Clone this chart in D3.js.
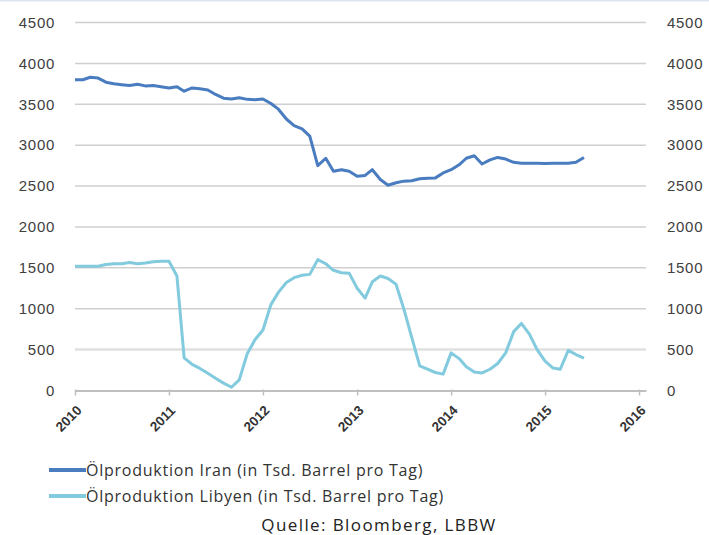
<!DOCTYPE html>
<html>
<head>
<meta charset="utf-8">
<script src="https://cdn.jsdelivr.net/npm/d3@7"></script>
<style>
  body { margin: 0; background: #fff; }
  svg { display: block; font-family: "Open Sans", "Liberation Sans", sans-serif; }
  .tick text { fill: #404040; }
</style>
</head>
<body>
<div id="chart"></div>
<script>
// Monatswerte Jan 2010 – Jun 2015 (Tsd. Barrel pro Tag)
const iran = [
  3800, 3800, 3830, 3820, 3770, 3750, 3740, 3730, 3745, 3725, 3730, 3715,
  3700, 3715, 3660, 3700, 3690, 3675, 3620, 3575, 3565, 3580, 3560, 3555,
  3565, 3510, 3440, 3320, 3240, 3200, 3110, 2750, 2840, 2680, 2700, 2680,
  2620, 2630, 2700, 2580, 2510, 2540, 2560, 2565, 2590, 2595, 2600, 2660,
  2700, 2760, 2840, 2870, 2770, 2820, 2850, 2830, 2790, 2780, 2780, 2780,
  2775, 2780, 2780, 2780, 2790, 2850
];
const libyen = [
  1520, 1520, 1520, 1520, 1540, 1550, 1550, 1565, 1550, 1560, 1575, 1580,
  1580, 1400, 400, 320, 270, 210, 150, 90, 40, 130, 450, 620,
  740, 1050, 1200, 1320, 1380, 1410, 1420, 1600, 1550, 1470, 1440, 1435,
  1250, 1130, 1330, 1400, 1370, 1300, 1000, 650, 300, 260, 220, 200,
  460, 390, 290, 225, 215, 260, 330, 460, 720, 820, 690, 500,
  360, 275, 260, 490, 440, 395
];
const yTicks = [0, 500, 1000, 1500, 2000, 2500, 3000, 3500, 4000, 4500];
const yearTicks = [2010, 2011, 2012, 2013, 2014, 2015, 2016];
const seriesNames = [
  "Ölproduktion Iran (in Tsd. Barrel pro Tag)",
  "Ölproduktion Libyen (in Tsd. Barrel pro Tag)"
];
const seriesColors = ["#4a7cc0", "#82cadd"];
const source = "Quelle: Bloomberg, LBBW";

(function() {
    const W = 709, H = 535;
    const months = d3.timeMonth.range(new Date(2010, 0, 1), new Date(2010, iran.length, 1));

    const svg = d3.select("#chart").append("svg")
        .attr("width", W)
        .attr("height", H);

    // dünne Rahmenlinie oben
    svg.append("line")
        .attr("x1", 0).attr("x2", W)
        .attr("y1", 0.5).attr("y2", 0.5)
        .attr("stroke", "#dce6f0")
        .attr("stroke-width", 2);

    const x = d3.scaleTime()
        .domain([new Date(2010, 0, 1), new Date(2016, 0, 28)])
        .range([75, 646]);
    const y = d3.scaleLinear()
        .domain([0, 4500])
        .range([390.5, 22.5]);

    // Gitterlinien
    svg.append("g")
        .selectAll("line")
        .data(yTicks.filter(d => d > 0))
        .join("line")
        .attr("x1", x.range()[0])
        .attr("x2", x.range()[1])
        .attr("y1", d => y(d))
        .attr("y2", d => y(d))
        .attr("stroke", d => d === 500 ? "#e0e0e0" : "#cfcfcf")
        .attr("stroke-width", d => d === 500 ? 2.5 : 1.5);

    // linke und rechte y-Achse
    const yLeft = svg.append("g")
        .attr("transform", `translate(${x.range()[0] - 20},0)`)
        .call(d3.axisLeft(y).tickValues(yTicks).tickSize(0).tickPadding(0).tickFormat(d3.format("d")));
    const yRight = svg.append("g")
        .attr("transform", `translate(${x.range()[1] + 21},0)`)
        .call(d3.axisRight(y).tickValues(yTicks).tickSize(0).tickPadding(0).tickFormat(d3.format("d")));
    [yLeft, yRight].forEach(g => {
        g.select(".domain").remove();
        g.selectAll("text")
            .style("font-size", "15px")
            .style("letter-spacing", "0.7px");
    });

    // x-Achse
    const xAxis = svg.append("g")
        .attr("transform", `translate(0,${y(0)})`)
        .call(d3.axisBottom(x)
            .tickValues(yearTicks.map(yr => new Date(yr, 0, 1)))
            .tickSize(5)
            .tickSizeOuter(0)
            .tickFormat(d3.timeFormat("%Y")));
    xAxis.select(".domain").attr("stroke", "#bfbfbf").attr("stroke-width", 2);
    xAxis.selectAll(".tick line").attr("stroke", "#bfbfbf").attr("stroke-width", 1.5).attr("y1", -1);
    xAxis.selectAll(".tick text")
        .attr("text-anchor", "middle")
        .attr("transform", "translate(-7,28) rotate(-45)")
        .attr("dy", "0.35em")
        .attr("y", 0)
        .attr("x", 0)
        .style("font-size", "13.5px")
        .style("font-weight", "bold")
        .style("fill", "#333");

    // Linien
    const line = d3.line()
        .x((d, i) => x(months[i]))
        .y(d => y(d));

    [libyen, iran].forEach((series, k) => {
        svg.append("path")
            .datum(series)
            .attr("d", line)
            .attr("fill", "none")
            .attr("stroke", seriesColors[1 - k])
            .attr("stroke-width", 3)
            .attr("stroke-linejoin", "round");
    });

    // Legende
    const legend = svg.append("g")
        .selectAll("g")
        .data(seriesNames)
        .join("g")
        .attr("transform", (d, i) => `translate(49,${470 + i * 26})`);
    legend.append("line")
        .attr("x1", 0).attr("x2", 37)
        .attr("stroke", (d, i) => seriesColors[i])
        .attr("stroke-width", 4);
    legend.append("text")
        .attr("x", 37)
        .attr("dy", "0.35em")
        .style("font-size", "16px")
        .style("letter-spacing", "0.75px")
        .style("fill", "#333")
        .text(d => d);

    // Quelle
    svg.append("text")
        .attr("x", 379)
        .attr("y", 531)
        .attr("text-anchor", "middle")
        .style("font-size", "17px")
        .style("letter-spacing", "1.4px")
        .style("fill", "#222")
        .text(source);
})();
</script>
</body>
</html>
